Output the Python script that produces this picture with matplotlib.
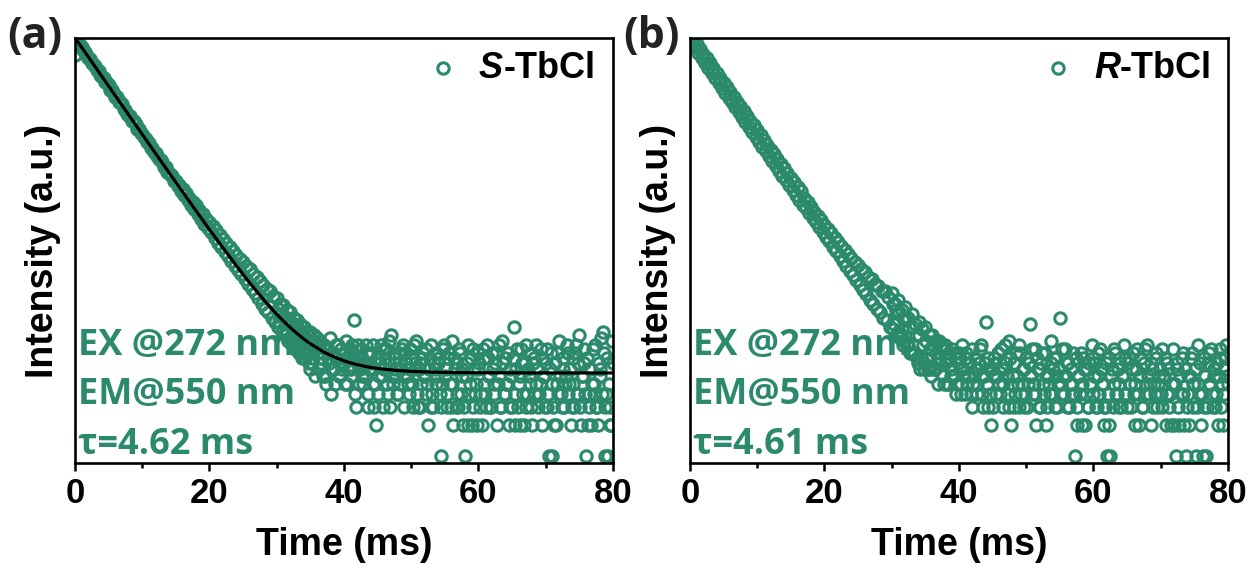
import numpy as np
import matplotlib.pyplot as plt
from matplotlib.ticker import MultipleLocator

# channel width of the decay traces (ms)
dt_ms = 0.25
# the tail (t >= 30 ms) is also read at the half channels in between
mid_start_ms = 30.125

# photon counts, S-TbCl, one value per channel
counts_s = [
    7900, 11200, 10450, 9800, 9400, 8650, 8400, 7700,
    7300, 7150, 6550, 6450, 6150, 5600, 5450, 4980,
    4750, 4700, 4250, 4200, 3980, 3600, 3550, 3250,
    3080, 3050, 2740, 2720, 2600, 2330, 2310, 2100,
    1990, 1980, 1780, 1770, 1690, 1510, 1500, 1360,
    1340, 1260, 1190, 1120, 1090, 985, 975, 890,
    870, 820, 760, 745, 720, 640, 635, 575,
    560, 540, 525, 465, 470, 420, 430, 372,
    390, 340, 355, 305, 320, 275, 290, 250,
    275, 222, 245, 200, 225, 180, 200, 165,
    185, 148, 172, 132, 155, 118, 140, 108,
    128, 96, 118, 88, 108, 78, 98, 70,
    90, 64, 82, 58, 76, 52, 70, 47,
    65, 42, 58, 38, 55, 34, 50, 30,
    46, 27, 42, 25, 40, 22, 36, 20,
    34, 18, 30, 16, 29, 15, 26, 13,
    25, 12, 22, 11, 21, 10, 19, 9,
    18, 9, 16, 8, 16, 8, 15, 11,
    14, 7, 12, 9, 12, 6, 11, 8,
    4, 10, 7, 12, 9, 6, 11, 7,
    8, 13, 5, 9, 7, 12, 21, 3,
    9, 5, 11, 6, 8, 12, 4, 7,
    10, 5, 3, 2, 9, 6, 12, 3,
    7, 11, 4, 8, 15, 5, 9, 6,
    4, 10, 7, 12, 6, 8, 5, 11,
    9, 3, 7, 13, 3, 8, 5, 10,
    6, 4, 2, 9, 12, 3, 7, 5,
    8, 4, 1, 11, 6, 3, 9, 5,
    13, 2, 7, 4, 3, 10, 6, 2,
    1, 8, 2, 5, 2, 11, 4, 2,
    7, 3, 2, 9, 4, 12, 6, 3,
    10, 5, 8, 2, 6, 3, 13, 4,
    9, 5, 2, 7, 3, 18, 2, 11,
    5, 2, 8, 2, 12, 4, 6, 3,
    2, 9, 5, 7, 4, 11, 2, 6,
    8, 3, 1, 10, 1, 2, 2, 5,
    13, 4, 7, 3, 6, 10, 5, 2,
    9, 3, 12, 4, 15, 2, 6, 8,
    1, 2, 4, 2, 11, 5, 3, 2,
    7, 14, 16, 1, 4, 1, 2, 2,
    8,
]

# panel (a), half channels from 30.125 ms on
counts_s_mid = [
    27, 20, 24, 17, 23, 16, 21, 14,
    20, 13, 18, 12, 17, 11, 16, 10,
    15, 10, 13, 7, 13, 9, 6, 12,
    10, 13, 8, 6, 11, 5, 9, 14,
    7, 10, 5, 9, 12, 6, 8, 10,
    5, 9, 7, 11, 6, 10, 4, 8,
    12, 7, 9, 5, 6, 10, 3, 8,
    7, 12, 5, 9, 4, 8, 6, 11,
    9, 5, 13, 3, 6, 10, 7, 4,
    8, 5, 11, 3, 10, 6, 4, 7,
    5, 12, 8, 4, 7, 3, 9, 6,
    11, 5, 7, 3, 4, 8, 10, 6,
    9, 3, 5, 12, 7, 4, 10, 3,
    5, 9, 3, 8, 11, 4, 7, 3,
    6, 12, 4, 9, 3, 7, 5, 10,
    8, 4, 11, 5, 3, 9, 6, 3,
    7, 4, 10, 5, 12, 3, 8, 4,
    5, 10, 3, 6, 9, 4, 7, 3,
    6, 11, 4, 8, 3, 7, 5, 10,
    8, 4, 12, 3, 5, 9, 6, 3,
    11, 4, 7, 5, 3, 8, 10, 4,
    6, 3, 9, 5, 12, 4, 7, 3,
    5, 10, 4, 8, 3, 6, 11, 4,
    9, 3, 7, 5, 4, 12, 3, 8,
    6, 4, 10, 3, 9, 5, 3, 13,
]

# photon counts, R-TbCl
counts_r = [
    11300, 10200, 10800, 9200, 9900, 8200, 8900, 7300,
    8000, 6500, 7250, 5800, 6500, 5200, 5850, 4650,
    5200, 4200, 4700, 3750, 4220, 3370, 3800, 3020,
    3420, 2710, 3080, 2420, 2760, 2180, 2480, 1950,
    2220, 1750, 2000, 1570, 1790, 1400, 1620, 1260,
    1450, 1130, 1300, 1010, 1170, 910, 1050, 815,
    945, 730, 850, 655, 760, 585, 690, 528,
    620, 476, 565, 426, 503, 382, 458, 344,
    410, 308, 372, 276, 318, 256, 290, 230,
    260, 206, 236, 186, 212, 166, 194, 150,
    175, 134, 160, 121, 145, 108, 132, 97,
    120, 87, 110, 79, 100, 70, 92, 63,
    84, 57, 77, 51, 72, 46, 65, 41,
    61, 37, 55, 33, 52, 30, 47, 27,
    45, 25, 40, 22, 40, 21, 35, 18,
    38, 17, 30, 15, 33, 14, 26, 12,
    28, 12, 22, 10, 24, 10, 19, 9,
    20, 7, 17, 8, 18, 9, 15, 7,
    15, 7, 13, 8, 13, 8, 11, 5,
    12, 5, 10, 6, 11, 6, 9, 5,
    10, 4, 12, 6, 9, 5, 8, 4,
    11, 6, 7, 5, 8, 12, 4, 6,
    20, 3, 7, 2, 6, 9, 4, 10,
    5, 11, 3, 7, 8, 4, 13, 2,
    6, 3, 10, 5, 12, 4, 7, 3,
    9, 5, 19, 6, 4, 11, 2, 7,
    3, 8, 5, 10, 2, 6, 4, 13,
    7, 3, 9, 5, 22, 4, 6, 11,
    3, 8, 5, 4, 10, 1, 2, 6,
    4, 2, 9, 2, 7, 3, 5, 12,
    4, 8, 3, 6, 11, 5, 2, 3,
    1, 2, 1, 7, 5, 10, 4, 3,
    8, 6, 12, 4, 3, 9, 5, 7,
    4, 2, 11, 2, 6, 3, 8, 5,
    12, 4, 2, 7, 5, 9, 3, 6,
    4, 11, 6, 2, 8, 3, 2, 5,
    2, 1, 7, 2, 4, 10, 2, 1,
    6, 2, 9, 3, 5, 1, 12, 4,
    2, 1, 3, 1, 8, 5, 11, 3,
    6, 4, 2, 9, 3, 2, 7, 12,
    5,
]

# panel (b), half channels from 30.125 ms on
counts_r_mid = [
    30, 19, 26, 16, 25, 15, 22, 13,
    21, 12, 18, 10, 18, 10, 15, 8,
    15, 9, 12, 7, 13, 7, 11, 6,
    12, 7, 10, 5, 9, 12, 6, 8,
    11, 5, 9, 7, 6, 10, 4, 8,
    9, 5, 7, 4, 10, 6, 8, 3,
    5, 9, 4, 7, 11, 6, 3, 8,
    5, 9, 4, 7, 3, 8, 6, 10,
    4, 7, 5, 12, 6, 3, 9, 5,
    8, 4, 6, 3, 10, 5, 7, 4,
    3, 8, 6, 11, 5, 4, 9, 3,
    7, 10, 4, 6, 3, 5, 8, 4,
    9, 6, 3, 7, 5, 11, 4, 6,
    8, 3, 7, 5, 4, 9, 3, 6,
    10, 5, 7, 4, 3, 8, 5, 9,
    6, 3, 10, 4, 7, 5, 3, 8,
    4, 9, 6, 3, 11, 4, 7, 5,
    3, 6, 9, 4, 8, 5, 3, 10,
    5, 7, 4, 6, 9, 3, 11, 4,
    6, 5, 8, 3, 4, 10, 5, 7,
    3, 6, 9, 4, 7, 4, 5, 11,
    5, 8, 3, 6, 9, 4, 7, 3,
    4, 6, 10, 5, 7, 3, 5, 8,
    4, 9, 6, 3, 10, 5, 4, 7,
    3, 8, 6, 11, 5, 4, 9, 6,
]

# single-exponential fit drawn in panel (a)
fit_time_s = [0, 2, 4, 6, 8, 10, 12, 14, 16, 18, 20, 22, 24, 25, 26, 27,
              28, 29, 30, 31, 32, 33, 34, 35, 36, 37, 38, 39, 40, 41, 42,
              43, 44, 45, 46, 48, 50, 53, 56, 60, 70, 80]
fit_counts_s = [11506, 7466, 4845, 3145, 2042, 1327, 863, 562, 367, 240,
                158, 105, 70.3, 57.9, 47.8, 39.8, 33.3, 28.0, 23.8, 20.4,
                17.7, 15.5, 13.7, 12.3, 11.2, 10.2, 9.5, 8.9, 8.4, 8.0, 7.7,
                7.45, 7.24, 7.08, 6.95, 6.76, 6.63, 6.52, 6.46, 6.43, 6.40,
                6.40]

panel_tags = ["(a)", "(b)"]
sample_names = ["S", "R"]
tau_labels = ["τ=4.62 ms", "τ=4.61 ms"]
ex_label = "EX @272 nm"
em_label = "EM@550 nm"

green = "#2b8a6c"
plt.rcParams["font.family"] = ["Liberation Sans", "DejaVu Sans"]
plt.rcParams["font.weight"] = "bold"

fig = plt.figure(figsize=(12.54, 5.76), dpi=100)
ax_a = fig.add_axes([0.0598, 0.1962, 0.429, 0.7378])
ax_b = fig.add_axes([0.5502, 0.1962, 0.429, 0.7378])

marker_kw = dict(linestyle="none", marker="o", ms=8.2, mfc="none",
                 mec=green, mew=2.2)

datasets = [(counts_s, counts_s_mid), (counts_r, counts_r_mid)]
for i, ax in enumerate([ax_a, ax_b]):
    counts, counts_mid = datasets[i]
    time_ms = np.arange(len(counts)) * dt_ms
    time_mid = mid_start_ms + np.arange(len(counts_mid)) * dt_ms
    ax.plot(time_ms, counts, **marker_kw)
    ax.plot(time_mid, counts_mid, **marker_kw)
    if i == 0:
        ax.plot(fit_time_s, fit_counts_s, color="black", lw=2.3)

    ax.set_yscale("log")
    ax.set_xlim(0, 80)
    ax.set_ylim(0.855, 11430)
    ax.xaxis.set_major_locator(MultipleLocator(20))
    ax.xaxis.set_minor_locator(MultipleLocator(10))
    ax.tick_params(axis="x", which="major", direction="out", length=6,
                   width=1.8, labelsize=25, pad=4)
    ax.tick_params(axis="x", which="minor", direction="out", length=3.5,
                   width=1.8)
    ax.tick_params(axis="y", which="both", left=False, labelleft=False)
    for sp in ax.spines.values():
        sp.set_linewidth(1.9)

    ax.set_xlabel("Time (ms)", fontsize=27, fontweight="bold", labelpad=12)
    ax.set_ylabel("Intensity (a.u.)", fontsize=27, fontweight="bold",
                  labelpad=10)

    # legend entry
    ax.plot([0.684], [0.929], transform=ax.transAxes, clip_on=False,
            **marker_kw)
    s_txt = ax.text(0.751, 0.929, sample_names[i], transform=ax.transAxes,
                    fontsize=26, fontweight="bold", style="italic",
                    va="center", ha="left")
    ax.annotate("-TbCl", xy=(1, 0.5), xycoords=s_txt, fontsize=26,
                fontweight="bold", va="center", ha="left")

    # measurement notes
    for y, txt in zip([0.275, 0.16, 0.042], [ex_label, em_label, tau_labels[i]]):
        ax.text(0.006, y, txt, transform=ax.transAxes, color=green,
                fontsize=26, fontweight="bold", family="Open Sans",
                va="center", ha="left")

fig.text(0.006, 0.936, panel_tags[0], fontsize=31, fontweight="bold",
         family="Open Sans", color="#222222", va="center", ha="left")
fig.text(0.497, 0.936, panel_tags[1], fontsize=31, fontweight="bold",
         family="Open Sans", color="#222222", va="center", ha="left")

fig.savefig("out.png", dpi=100)
